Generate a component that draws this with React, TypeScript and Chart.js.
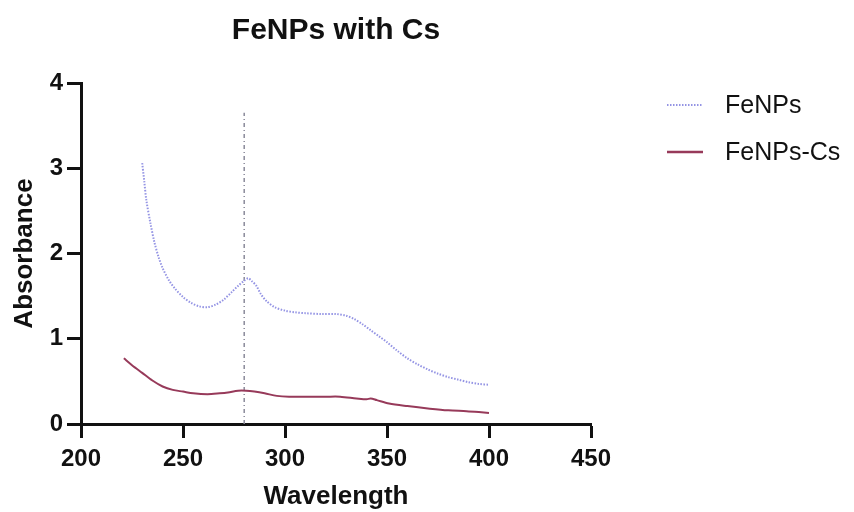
import React, { useEffect, useRef } from "react";
import { Chart, registerables } from "chart.js";

Chart.register(...registerables);

const chartTitle = "FeNPs with Cs";
const xAxisTitle = "Wavelength";
const yAxisTitle = "Absorbance";

const feNPsLabel = "FeNPs";
const feNPsWavelengths = [230, 231, 232, 234, 236, 238, 240, 243, 246, 250, 254, 258, 262, 266, 270, 274, 277, 280, 282, 284, 286, 288, 291, 295, 300, 305, 310, 318, 325, 330, 334, 338, 342, 346, 350, 355, 360, 365, 370, 375, 380, 385, 390, 395, 400];
const feNPsAbsorbance = [3.06, 2.85, 2.63, 2.36, 2.13, 1.96, 1.83, 1.69, 1.59, 1.49, 1.42, 1.38, 1.37, 1.4, 1.46, 1.55, 1.62, 1.68, 1.71, 1.67, 1.62, 1.53, 1.44, 1.37, 1.33, 1.31, 1.3, 1.29, 1.29, 1.27, 1.23, 1.17, 1.1, 1.03, 0.96, 0.86, 0.77, 0.7, 0.64, 0.59, 0.55, 0.52, 0.49, 0.47, 0.46];

const feNPsCsLabel = "FeNPs-Cs";
const feNPsCsWavelengths = [221, 225, 230, 235, 240, 245, 250, 255, 262, 268, 272, 277, 281, 285, 290, 296, 302, 310, 320, 327, 335, 340, 342, 345, 351, 360, 371, 380, 389, 395, 400];
const feNPsCsAbsorbance = [0.77, 0.69, 0.6, 0.51, 0.44, 0.4, 0.38, 0.36, 0.35, 0.36, 0.37, 0.39, 0.39, 0.38, 0.36, 0.33, 0.32, 0.32, 0.32, 0.32, 0.3, 0.29, 0.3, 0.28, 0.24, 0.21, 0.18, 0.16, 0.15, 0.14, 0.13];

const markerWavelengths = [280, 280];
const markerAbsorbance = [0, 3.65];

const xMin = 200;
const xMax = 450;
const xStep = 50;
const yMin = 0;
const yMax = 4;
const yStep = 1;

const FONT = "'Liberation Sans', Arial, Helvetica, sans-serif";
const BLUE = "#9494e4";
const RED = "#973a5a";
const GRAY = "#8a8a9a";

function toPoints(xs: number[], ys: number[]) {
  return xs.map((x, i) => ({ x, y: ys[i] }));
}

const decorPlugin = {
  id: "decor",
  afterDraw(chart: any) {
    const ctx = chart.ctx as CanvasRenderingContext2D;
    const area = chart.chartArea;
    ctx.save();
    ctx.fillStyle = "#111";
    ctx.font = `bold 30px ${FONT}`;
    ctx.textAlign = "center";
    ctx.textBaseline = "middle";
    ctx.fillText(chartTitle, (area.left + area.right) / 2, 31);
    const items = [
      { label: feNPsLabel, color: BLUE, dash: [1.5, 1.5], width: 2, y: 105 },
      { label: feNPsCsLabel, color: RED, dash: [], width: 2.5, y: 152 },
    ];
    ctx.font = `25px ${FONT}`;
    ctx.textAlign = "left";
    for (const it of items) {
      ctx.beginPath();
      ctx.strokeStyle = it.color;
      ctx.lineWidth = it.width;
      ctx.setLineDash(it.dash);
      ctx.moveTo(667, it.y);
      ctx.lineTo(703, it.y);
      ctx.stroke();
      ctx.setLineDash([]);
      ctx.fillStyle = "#111";
      ctx.fillText(it.label, 725, it.y + 1);
    }
    ctx.restore();
  },
};

export default function App() {
  const ref = useRef<HTMLCanvasElement | null>(null);
  useEffect(() => {
    document.body.style.margin = "0";
    const canvas = ref.current;
    if (!canvas) return;
    const chart = new Chart(canvas, {
      type: "line",
      data: {
        datasets: [
          {
            label: feNPsLabel,
            data: toPoints(feNPsWavelengths, feNPsAbsorbance),
            borderColor: BLUE,
            borderWidth: 2,
            borderDash: [1.5, 1.5],
            pointRadius: 0,
            tension: 0.3,
            fill: false,
          },
          {
            label: feNPsCsLabel,
            data: toPoints(feNPsCsWavelengths, feNPsCsAbsorbance),
            borderColor: RED,
            borderWidth: 2,
            pointRadius: 0,
            tension: 0.3,
            fill: false,
          },
          {
            label: "marker",
            data: toPoints(markerWavelengths, markerAbsorbance),
            borderColor: GRAY,
            borderWidth: 1.5,
            borderDash: [4, 3, 1, 3],
            pointRadius: 0,
            fill: false,
          },
        ],
      },
      options: {
        responsive: false,
        animation: false,
        layout: { padding: { top: 83, right: 263, left: 0, bottom: 0 } },
        plugins: {
          legend: { display: false },
          title: { display: false },
          tooltip: { enabled: false },
        },
        scales: {
          x: {
            type: "linear",
            min: xMin,
            max: xMax,
            afterFit: (s: any) => {
              s.height = 88;
            },
            ticks: {
              stepSize: xStep,
              color: "#111",
              font: { family: FONT, size: 24, weight: "bold" },
              padding: 7,
              maxRotation: 0,
            },
            grid: {
              display: true,
              drawOnChartArea: false,
              drawTicks: true,
              tickLength: 14,
              tickWidth: 3,
              tickColor: "#111",
            },
            border: { display: true, color: "#111", width: 3 },
            title: {
              display: true,
              text: xAxisTitle,
              color: "#111",
              font: { family: FONT, size: 26, weight: "bold" },
              padding: { top: 0, bottom: 0 },
            },
          },
          y: {
            type: "linear",
            min: yMin,
            max: yMax,
            afterFit: (s: any) => {
              s.width = 81;
            },
            ticks: {
              stepSize: yStep,
              color: "#111",
              font: { family: FONT, size: 24, weight: "bold" },
              padding: 4,
            },
            grid: {
              display: true,
              drawOnChartArea: false,
              drawTicks: true,
              tickLength: 14,
              tickWidth: 3,
              tickColor: "#111",
            },
            border: { display: true, color: "#111", width: 3 },
            title: {
              display: true,
              text: yAxisTitle,
              color: "#111",
              font: { family: FONT, size: 26, weight: "bold" },
              padding: { top: 9, bottom: 0 },
            },
          },
        },
      },
      plugins: [decorPlugin],
    } as any);
    return () => chart.destroy();
  }, []);
  return (
    <div style={{ width: 854, height: 512, background: "#fff" }}>
      <canvas ref={ref} width={854} height={512} style={{ display: "block" }} />
    </div>
  );
}
